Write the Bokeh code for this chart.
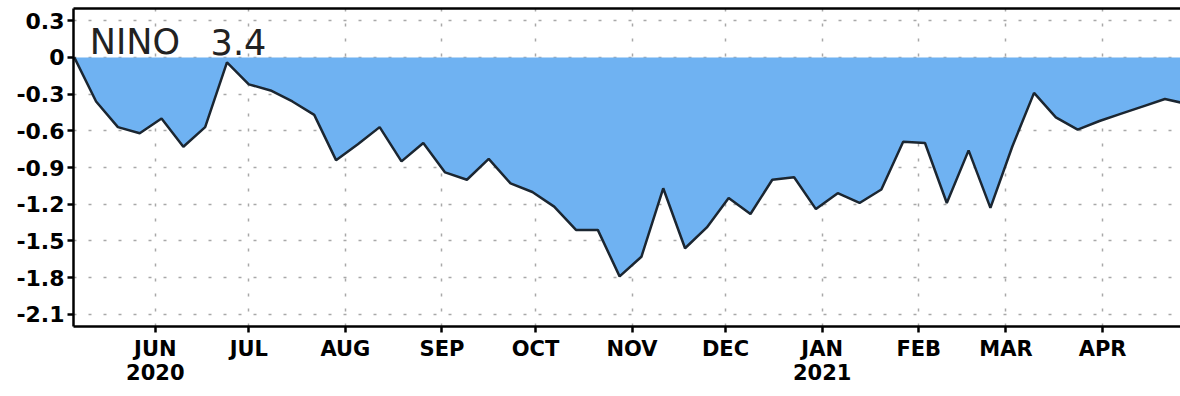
from datetime import datetime
import pandas as pd
from bokeh.plotting import figure
from bokeh.models import (ColumnDataSource, FixedTicker, LinearAxis, Range1d, Label)
from bokeh.embed import file_html
from bokeh.resources import INLINE

# ---- data (weekly Nino 3.4 SST anomaly, degC) ----
week_dates = [
    "2020-05-06", "2020-05-13", "2020-05-20", "2020-05-27", "2020-06-03", "2020-06-10",
    "2020-06-17", "2020-06-24", "2020-07-01", "2020-07-08", "2020-07-15", "2020-07-22",
    "2020-07-29", "2020-08-05", "2020-08-12", "2020-08-19", "2020-08-26", "2020-09-02",
    "2020-09-09", "2020-09-16", "2020-09-23", "2020-09-30", "2020-10-07", "2020-10-14",
    "2020-10-21", "2020-10-28", "2020-11-04", "2020-11-11", "2020-11-18", "2020-11-25",
    "2020-12-02", "2020-12-09", "2020-12-16", "2020-12-23", "2020-12-30", "2021-01-06",
    "2021-01-13", "2021-01-20", "2021-01-27", "2021-02-03", "2021-02-10", "2021-02-17",
    "2021-02-24", "2021-03-03", "2021-03-10", "2021-03-17", "2021-03-24", "2021-03-31",
    "2021-04-07", "2021-04-14", "2021-04-21", "2021-04-28",
]
nino34 = [
    0.00, -0.36, -0.57, -0.62, -0.50, -0.73,
    -0.57, -0.04, -0.22, -0.27, -0.36, -0.47,
    -0.84, -0.71, -0.57, -0.85, -0.70, -0.94,
    -1.00, -0.83, -1.03, -1.10, -1.22, -1.41,
    -1.41, -1.79, -1.63, -1.07, -1.56, -1.39,
    -1.15, -1.28, -1.00, -0.98, -1.24, -1.11,
    -1.19, -1.08, -0.69, -0.70, -1.19, -0.76,
    -1.23, -0.73, -0.29, -0.49, -0.59, -0.52,
    -0.46, -0.40, -0.34, -0.38,
]
month_ticks = ["2020-06-01", "2020-07-01", "2020-08-01", "2020-09-01", "2020-10-01",
               "2020-11-01", "2020-12-01", "2021-01-01", "2021-02-01", "2021-03-01",
               "2021-04-01"]
month_labels = ["JUN\n2020", "JUL", "AUG", "SEP", "OCT", "NOV", "DEC", "JAN\n2021",
                "FEB", "MAR", "APR"]
y_ticks = [-2.1, -1.8, -1.5, -1.2, -0.9, -0.6, -0.3, 0.0, 0.3]
y_labels = ["-2.1", "-1.8", "-1.5", "-1.2", "-0.9", "-0.6", "-0.3", "0", "0.3"]
title_words = ["NINO", "3.4"]

# ---- build ----
dates = pd.to_datetime(week_dates)
src = ColumnDataSource(dict(x=dates, y=nino34, zero=[0.0] * len(nino34)))

def ms(s):
    return pd.Timestamp(s).value / 1e6

p = figure(width=1180, height=396, output_backend="svg", toolbar_location=None,
           x_axis_type="datetime",
           x_range=Range1d(ms("2020-05-05 18:00"), ms("2021-04-26 00:00")),
           y_range=Range1d(-2.2, 0.4),
           min_border_left=73, min_border_right=0, min_border_top=8, min_border_bottom=70)
p.outline_line_color = None
p.background_fill_color = "white"
p.border_fill_color = "white"

# grids
tick_ms = [ms(t) for t in month_ticks]
p.xaxis.ticker = FixedTicker(ticks=tick_ms)
p.xaxis.major_label_overrides = {t: l for t, l in zip(tick_ms, month_labels)}
p.yaxis.ticker = FixedTicker(ticks=y_ticks)
p.yaxis.major_label_overrides = {t: l for t, l in zip(y_ticks, y_labels)}
for g in (p.xgrid, p.ygrid):
    g.grid_line_color = "#a8a8a8"
    g.grid_line_width = 1.5
    g.grid_line_dash = "3 12"

# filled anomaly + outline
p.varea(x="x", y1="y", y2="zero", source=src, fill_color="#6fb2f2")
p.line(x="x", y="y", source=src, line_color="#1b2631", line_width=2.5)

# axes styling
for ax in (p.xaxis, p.yaxis):
    ax.axis_line_width = 2.5
    ax.axis_line_color = "black"
    ax.major_tick_line_width = 2.5
    ax.major_tick_line_color = "black"
    ax.major_tick_out = 6
    ax.major_tick_in = 0
    ax.minor_tick_line_color = None
    ax.major_label_text_font = "DejaVu Sans"
    ax.major_label_text_font_style = "bold"
    ax.major_label_text_font_size = "22px"
    ax.major_label_text_color = "black"
p.xaxis.major_label_standoff = 4
p.yaxis.major_label_standoff = 3
p.xaxis.major_label_text_font_size = "21px"
p.xaxis.major_label_text_line_height = 1.0

top_axis = LinearAxis(ticker=FixedTicker(ticks=[]), axis_line_width=2.5,
                      axis_line_color="black", major_tick_line_color=None,
                      minor_tick_line_color=None, major_label_standoff=0,
                      major_label_text_font_size="1px")
p.add_layout(top_axis, "above")

for word, xpos in zip(title_words, ["2020-05-11", "2020-06-18 18:00"]):
    p.add_layout(Label(x=ms(xpos), y=0.13, text=word,
                       text_font="DejaVu Sans", text_font_size="35px",
                       text_color="#222222", text_baseline="alphabetic"))

open("out.html", "w").write(file_html(p, INLINE))
